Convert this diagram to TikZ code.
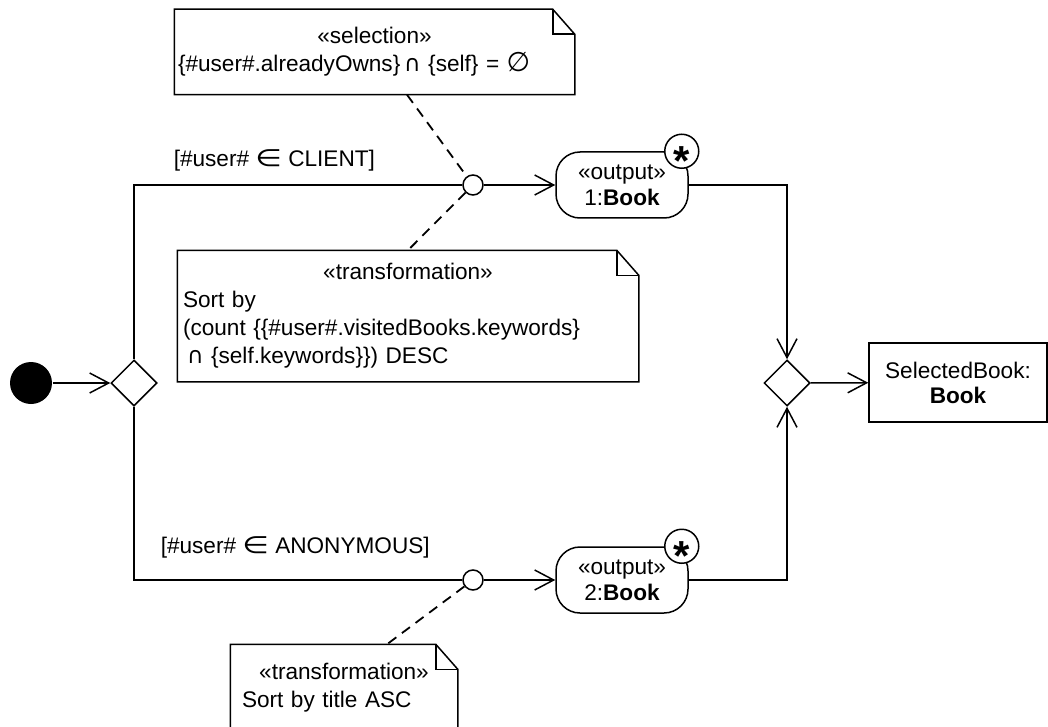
\documentclass[tikz,border=0pt]{standalone}
\usepackage{fontspec}
\setmainfont{Liberation Sans}
\newfontfamily\symfont{DejaVu Sans}
\usetikzlibrary{arrows.meta,shapes.geometric}

% set symbols
\newcommand{\elemof}{\scalebox{1.35}[1.05]{\symfont ∈}}
\newcommand{\inter}{{\symfont ∩}}
\newcommand{\noset}{{\symfont\fontsize{27}{28}\selectfont ∅}}

% note with a folded corner
\newcommand{\dogear}[1]{%
    \draw (#1.north west) -- ([xshift=-22pt]#1.north east)
        -- ([yshift=-25pt]#1.north east) -- (#1.south east)
        -- (#1.south west) -- cycle;
    \draw ([xshift=-22pt]#1.north east) |- ([yshift=-25pt]#1.north east);}

\begin{document}
\begin{tikzpicture}[
        x=1pt, y=-1pt,
        line width=1.5pt,
        >={Straight Barb[length=19pt,width=20pt]},
        every node/.style={font=\fontsize{22.6}{28}\selectfont},
        note/.style={
            align=left,
            inner ysep=0pt
        },
        pill/.style={
            draw,
            rounded corners=24pt,
            minimum width=132pt,
            minimum height=66pt,
            inner sep=0pt,
            align=center,
            font=\fontsize{22.6}{26}\selectfont
        },
        mult/.style={
            draw,
            circle,
            fill=white,
            minimum size=34pt,
            inner sep=0pt,
            font=\fontsize{42}{42}\selectfont\bfseries
        },
        junction/.style={draw, circle, minimum size=20pt, inner sep=0pt},
        decision/.style={draw, diamond, minimum size=46pt, inner sep=0pt},
        link/.style={dash pattern=on 10pt off 7pt, line width=1.8pt},
        guard/.style={anchor=west, inner sep=0pt}
    ]
        \clip (0,0) rectangle (1048,727);

        \node[note, text width=393pt, inner xsep=3pt, minimum height=84pt] (sel) at (374.5,52)
            {\hspace*{\fill}«selection»\hspace*{\fill}\mbox{}\\
             \{\#user\#.alreadyOwns\}\,\inter\ \{self\} = \noset};
        \node[note, text width=450pt, inner xsep=5pt, minimum height=130pt] (trc) at (408,316)
            {\hspace*{\fill}«transformation»\hspace*{\fill}\mbox{}\\
             Sort by\\
             (count \{\{\#user\#.visitedBooks.keywords\}\\
             \hspace*{4pt}\inter\ \{self.keywords\}\}) DESC};
        \node[note, text width=204pt, inner xsep=11pt, minimum height=86pt] (tra) at (344,688)
            {\hspace*{\fill}«transformation»\hspace*{\fill}\mbox{}\\
             Sort by title ASC};

        \node[fill, circle, minimum size=42pt, inner sep=0pt] (start) at (31,383) {};
        \node[decision] (split) at (134,383) {};
        \node[decision] (merge) at (787,383) {};
        \node[junction] (j1) at (473,185) {};
        \node[junction] (j2) at (473,580) {};
        \node[pill] (out1) at (622,185) {«output»\\1:\textbf{Book}};
        \node[pill] (out2) at (622,580) {«output»\\2:\textbf{Book}};
        \node[mult] (m1) at ([xshift=-7pt]out1.north east) {\raisebox{-0.57em}[0pt][0pt]{*}};
        \node[mult] (m2) at ([xshift=-7pt]out2.north east) {\raisebox{-0.57em}[0pt][0pt]{*}};
        \node[draw, minimum width=178pt, minimum height=79pt, align=center,
            font=\fontsize{22.6}{25}\selectfont] (res) at (958,382.5)
            {SelectedBook:\\\textbf{Book}};
        \node[guard] (gc) at (173,160) {[\#user\# \elemof\ CLIENT]};
        \node[guard] (ga) at (160,547) {[\#user\# \elemof\ ANONYMOUS]};

        \dogear{sel}
        \dogear{trc}
        \dogear{tra}

        \draw[->] (start) -- (split);
        \draw (split) |- (j1);
        \draw[->] (j1) -- (out1);
        \draw (split) |- (j2);
        \draw[->] (j2) -- (out2);
        \draw[->] (out1) -| (merge);
        \draw[->] (out2) -| (merge);
        \draw[->] (merge) -- (res);

        \draw[link] ([xshift=32.5pt]sel.south) -- (j1);
        \draw[link] (j1) -- (trc.north);
        \draw[link] (j2) -- ([xshift=43pt]tra.north);
    \end{tikzpicture}
\end{document}
